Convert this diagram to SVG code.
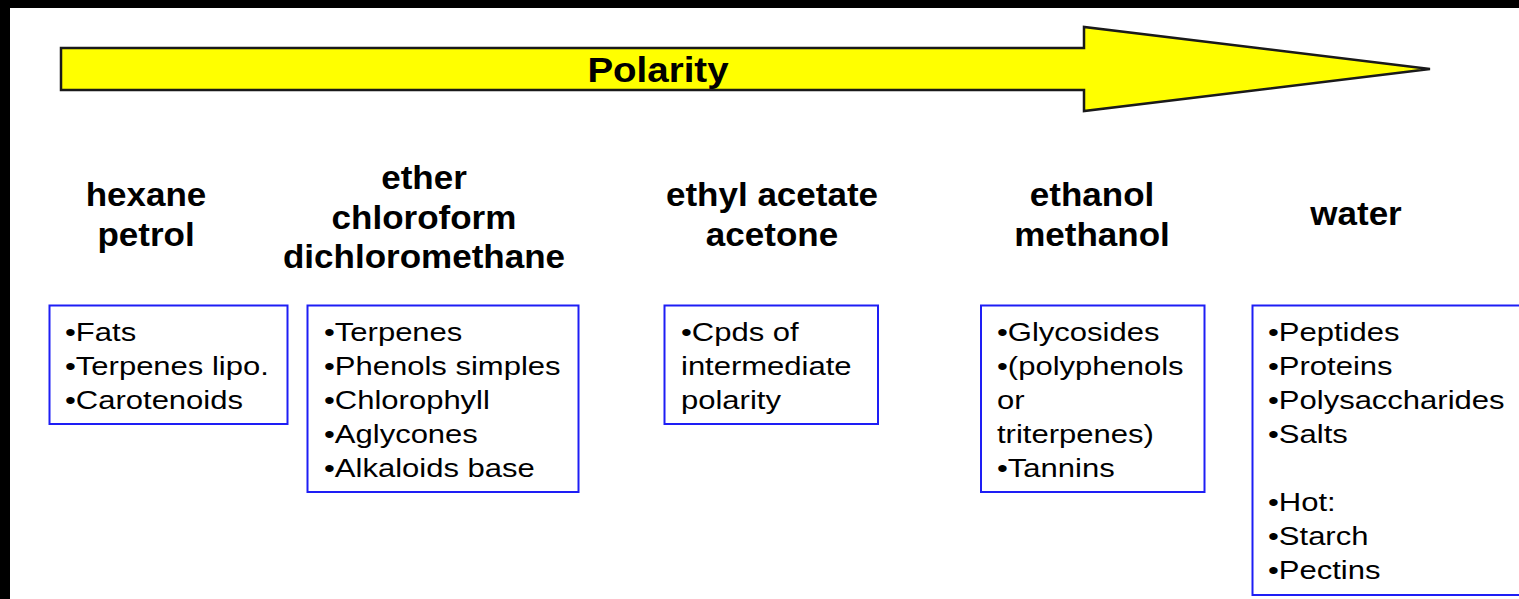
<svg xmlns="http://www.w3.org/2000/svg" width="1519" height="599" viewBox="0 0 1519 599">
  <style>
    .frame { fill: #000000; }
    .box { fill: #FFFFFF; stroke: #1E1EF5; stroke-width: 2; }
    .item { font-family: "Liberation Sans", Arial, sans-serif; font-size: 26.5px; fill: #000000; }
    .head { font-family: "Liberation Sans", Arial, sans-serif; font-size: 34px; font-weight: bold; fill: #000000; text-anchor: middle; }
    .title { font-family: "Liberation Sans", Arial, sans-serif; font-size: 35px; font-weight: bold; fill: #000000; text-anchor: middle; }
    .arrow { fill: #FFFF00; stroke: #1A1A1A; stroke-width: 2.5; stroke-linejoin: miter; }
  </style>

  <!-- page background and dark edges -->
  <rect x="0" y="0" width="1519" height="599" fill="#FFFFFF"/>
  <rect class="frame" x="0" y="0" width="1519" height="8"/>
  <rect class="frame" x="0" y="0" width="10" height="599"/>

  <!-- polarity arrow -->
  <g id="polarity-arrow">
    <polygon class="arrow" points="61,48 1084,48 1084,27 1430,69 1084,111 1084,90 61,90"/>
    <g transform="translate(658,0) scale(1.1,1)">
      <text class="title" x="0" y="82">Polarity</text>
    </g>
  </g>

  <!-- solvent headings -->
  <g id="solvent-hexane">
    <g transform="translate(146,0) scale(1.03,1)">
      <text class="head" x="0" y="206">hexane</text>
      <text class="head" x="0" y="246">petrol</text>
    </g>
  </g>
  <g id="solvent-ether">
    <g transform="translate(424,0) scale(1.03,1)">
      <text class="head" x="0" y="189">ether</text>
      <text class="head" x="0" y="229">chloroform</text>
      <text class="head" x="0" y="268">dichloromethane</text>
    </g>
  </g>
  <g id="solvent-ethyl-acetate">
    <g transform="translate(772,0) scale(1.03,1)">
      <text class="head" x="0" y="206">ethyl acetate</text>
      <text class="head" x="0" y="246">acetone</text>
    </g>
  </g>
  <g id="solvent-ethanol">
    <g transform="translate(1092,0) scale(1.03,1)">
      <text class="head" x="0" y="206">ethanol</text>
      <text class="head" x="0" y="246">methanol</text>
    </g>
  </g>
  <g id="solvent-water">
    <g transform="translate(1356,0) scale(1.03,1)">
      <text class="head" x="0" y="225">water</text>
    </g>
  </g>

  <!-- compound boxes -->
  <g id="box-hexane">
    <rect class="box" x="49.5" y="305.5" width="238" height="118.5"/>
    <g transform="translate(65,0) scale(1.17,1)">
      <text class="item" x="0" y="341">•Fats</text>
      <text class="item" x="0" y="375">•Terpenes lipo.</text>
      <text class="item" x="0" y="409">•Carotenoids</text>
    </g>
  </g>
  <g id="box-ether">
    <rect class="box" x="307.5" y="305.5" width="271" height="186.5"/>
    <g transform="translate(324,0) scale(1.17,1)">
      <text class="item" x="0" y="341">•Terpenes</text>
      <text class="item" x="0" y="375">•Phenols simples</text>
      <text class="item" x="0" y="409">•Chlorophyll</text>
      <text class="item" x="0" y="443">•Aglycones</text>
      <text class="item" x="0" y="477">•Alkaloids base</text>
    </g>
  </g>
  <g id="box-ethyl-acetate">
    <rect class="box" x="664.5" y="305.5" width="213.5" height="118.5"/>
    <g transform="translate(681,0) scale(1.17,1)">
      <text class="item" x="0" y="341">•Cpds of</text>
      <text class="item" x="0" y="375">intermediate</text>
      <text class="item" x="0" y="409">polarity</text>
    </g>
  </g>
  <g id="box-ethanol">
    <rect class="box" x="981" y="305.5" width="223.5" height="186.5"/>
    <g transform="translate(997,0) scale(1.17,1)">
      <text class="item" x="0" y="341">•Glycosides</text>
      <text class="item" x="0" y="375">•(polyphenols</text>
      <text class="item" x="0" y="409">or</text>
      <text class="item" x="0" y="443">triterpenes)</text>
      <text class="item" x="0" y="477">•Tannins</text>
    </g>
  </g>
  <g id="box-water">
    <rect class="box" x="1252.5" y="305.5" width="290" height="289.5"/>
    <g transform="translate(1268,0) scale(1.17,1)">
      <text class="item" x="0" y="341">•Peptides</text>
      <text class="item" x="0" y="375">•Proteins</text>
      <text class="item" x="0" y="409">•Polysaccharides</text>
      <text class="item" x="0" y="443">•Salts</text>
      <text class="item" x="0" y="511">•Hot:</text>
      <text class="item" x="0" y="545">•Starch</text>
      <text class="item" x="0" y="579">•Pectins</text>
    </g>
  </g>

  <!-- no connectors between nodes -->
  <g id="connectors"></g>
</svg>
